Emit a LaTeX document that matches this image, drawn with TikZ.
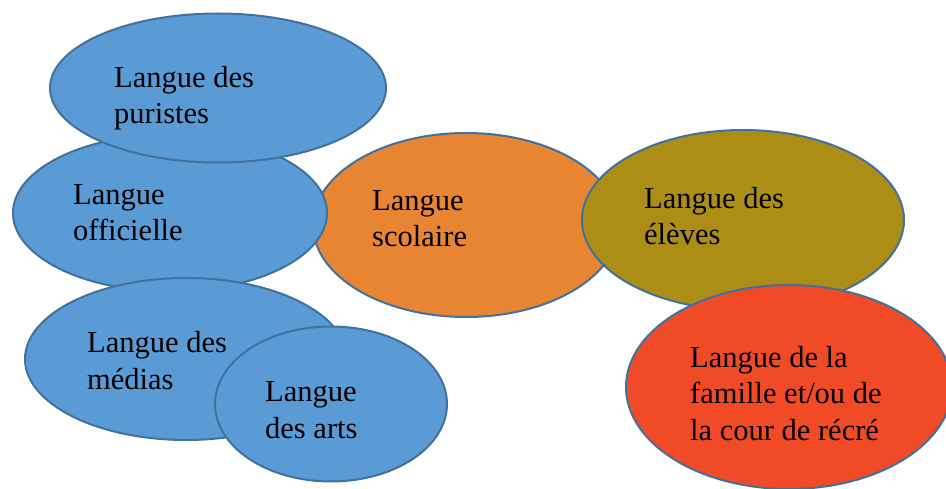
\documentclass[tikz,border=0pt]{standalone}
\usepackage{fontspec}
\setmainfont{Liberation Serif}
\usetikzlibrary{shapes.geometric}
\definecolor{blobblue}{RGB}{91,155,213}
\definecolor{blobstroke}{RGB}{65,113,156}
\definecolor{bloborange}{RGB}{232,133,50}
\definecolor{blobolive}{RGB}{172,142,22}
\definecolor{blobred}{RGB}{240,74,38}

\begin{document}
\begin{tikzpicture}[
  x=1pt, y=-1pt,
  bubble/.style={
    ellipse,
    draw=blobstroke,
    line width=2pt,
    inner sep=0pt
  },
  blue/.style={bubble, fill=blobblue},
  bubbletext/.style={
    anchor=base west,
    align=left,
    inner sep=0pt,
    font=\fontsize{30.5}{36.5}\selectfont
  }
]
\useasboundingbox (0,0) rectangle (946,489);

\node[bubble, fill=bloborange, minimum width=306pt, minimum height=184pt] (sco) at (466,225) {};
\node[bubble, fill=blobolive, minimum width=322pt, minimum height=180pt] (ele) at (743,220) {};
\node[bubble, fill=blobred, minimum width=326pt, minimum height=204pt] (fam) at (789,387) {};
\node[blue, minimum width=314pt, minimum height=157pt] (off) at (170,213) {};
\node[blue, minimum width=336pt, minimum height=149pt] (pur) at (218,88) {};
\node[blue, minimum width=322pt, minimum height=162pt] (med) at (186,359) {};
\node[blue, minimum width=232pt, minimum height=155pt] (art) at (331,404) {};

% base anchor sits on the last line
\node[bubbletext] (purtxt) at (114,124) {Langue des\\puristes};
\node[bubbletext] (offtxt) at (73,241) {Langue\\officielle};
\node[bubbletext] (medtxt) at (87,389) {Langue des\\médias};
\node[bubbletext] (arttxt) at (265,438) {Langue\\des arts};
\node[bubbletext] (scotxt) at (372,247) {Langue\\scolaire};
\node[bubbletext] (eletxt) at (644,245) {Langue des\\élèves};
\node[bubbletext] (famtxt) at (690,440) {Langue de la\\famille et/ou de\\la cour de récré};

\end{tikzpicture}
\end{document}
